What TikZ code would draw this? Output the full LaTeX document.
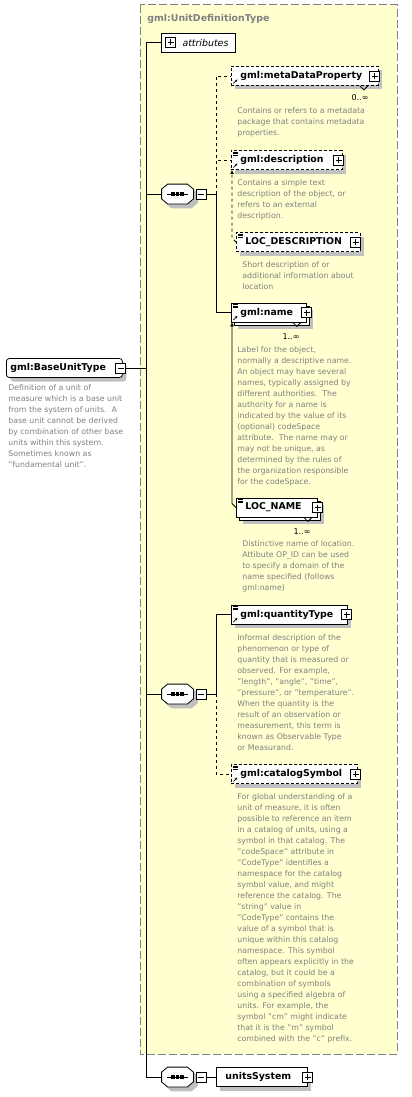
\documentclass[tikz,border=0pt]{standalone}
\usepackage{fontspec}
\setmainfont{DejaVu Sans}
\usetikzlibrary{positioning,arrows.meta,shadows}
\definecolor{xsYellow}{RGB}{255,255,208}
\definecolor{xsGray}{RGB}{128,128,128}
\definecolor{xsShadow}{RGB}{192,192,192}

\tikzset{
  namefont/.style={font=\fontsize{9.4}{11}\selectfont\bfseries},
  docnode/.style={anchor=north west, inner sep=0pt, align=left, text=xsGray,
    font=\fontsize{7.8}{11}\selectfont},
  mult/.style={inner sep=0pt, font=\fontsize{8}{10}\selectfont},
  elembox/.style={draw, fill=white, anchor=west, minimum height=19pt,
    inner xsep=9pt, inner ysep=0pt, align=left, namefont},
  elem/.style={elembox, drop shadow={shadow xshift=4pt, shadow yshift=-4pt,
    fill=xsShadow, opacity=1}},
  multi/.style={elembox, drop shadow={shadow xshift=7pt, shadow yshift=-7pt,
    fill=xsShadow, opacity=1},
    copy shadow={shadow xshift=3pt, shadow yshift=-3pt, fill=white, draw=black}},
  optional/.style={dash pattern=on 3pt off 2pt},
  optline/.style={dash pattern=on 3pt off 3pt},
  refmark/.style={path picture={
    \draw[solid, line width=0.6pt, -{Stealth[length=2.5pt,width=2.5pt]}]
      ([xshift=2pt,yshift=2pt]path picture bounding box.south west) -- ++(4pt,4pt);}},
  typemark/.style={path picture={
    \foreach \k in {0,1,2}
      \draw[solid, line width=0.5pt]
        ([xshift=2pt,yshift=-1.5pt-1.5*\k pt]path picture bounding box.north west) -- ++(5pt,0pt);}},
  reftypemark/.style={path picture={
    \foreach \k in {0,1,2}
      \draw[solid, line width=0.5pt]
        ([xshift=2pt,yshift=-1.5pt-1.5*\k pt]path picture bounding box.north west) -- ++(5pt,0pt);
    \draw[solid, line width=0.6pt, -{Stealth[length=2.5pt,width=2.5pt]}]
      ([xshift=2pt,yshift=2pt]path picture bounding box.south west) -- ++(4pt,4pt);}},
  plusbox/.style={draw, solid, fill=white, minimum size=10pt, inner sep=0pt,
    path picture={\draw[line width=0.7pt]
      ([xshift=2pt]path picture bounding box.west) -- ([xshift=-2pt]path picture bounding box.east)
      ([yshift=-2pt]path picture bounding box.north) -- ([yshift=2pt]path picture bounding box.south);}},
  minusbox/.style={draw, solid, fill=white, minimum size=10pt, inner sep=0pt,
    path picture={\draw[line width=0.7pt]
      ([xshift=2pt]path picture bounding box.west) -- ([xshift=-2pt]path picture bounding box.east);}},
  seq/.style={minimum width=31pt, minimum height=19pt, inner sep=0pt},
  substline/.style={-{Latex[length=4pt,width=4pt]}},
  typeframe/.style={draw=xsGray, fill=xsYellow, line width=1pt, dash pattern=on 8pt off 3pt}
}

% octagon of a sequence compositor, drawn over its (empty) node
\newcommand{\seqshape}[1]{%
  \foreach \s/\c/\d in {4pt/xsShadow/xsShadow, 0pt/white/black}
    \filldraw[fill=\c, draw=\d, transform canvas={shift={(\s,-\s)}}]
      ([xshift=6pt]#1.north west) -- ([xshift=-6pt]#1.north east)
      -- ([yshift=-5pt]#1.north east) -- ([yshift=5pt]#1.south east)
      -- ([xshift=-6pt]#1.south east) -- ([xshift=6pt]#1.south west)
      -- ([yshift=5pt]#1.south west) -- ([yshift=-5pt]#1.north west) -- cycle;
  \draw ([xshift=5pt]#1.west) -- ([xshift=-5pt]#1.east);
  \foreach \k in {-4.5,0,4.5}
    \fill ([xshift=\k pt]#1.center) +(-1.6pt,-1.6pt) rectangle +(1.6pt,1.6pt);
}

\begin{document}
\begin{tikzpicture}[x=1pt, y=-1pt, line width=0.8pt]
  \useasboundingbox (0,0) rectangle (412,1097);

  % complex type frame
  \draw[typeframe] (140,5) rectangle (397,1054);
  \node[anchor=west, inner sep=0pt, text=xsGray, namefont] (typeTitle) at (147,19) {gml:UnitDefinitionType};

  % global element
  \node[elem, rounded corners=3pt, inner xsep=4pt, text width=108pt] (base) at (6,368) {gml:BaseUnitType};
  \node[minusbox] (baseMinus) at ([xshift=-2pt]base.east) {};
  \node[docnode] (baseDoc) at (8,384) {Definition of a unit of\\measure which is a base unit\\from the system of units.\ \ A\\base unit cannot be derived\\by combination of other base\\units within this system.\\Sometimes known as\\"fundamental unit".};

  % attributes
  \node[draw, fill=white, anchor=west, minimum height=19pt, inner xsep=7pt, inner ysep=0pt,
    text width=60pt, align=right, font=\fontsize{9.4}{11}\selectfont\itshape] (attrs) at (161,42.5) {attributes};
  \node[plusbox] (attrsPlus) at (170.5,42.5) {};

  % first sequence
  \node[seq] (seqA) at (177.5,194) {};
  \seqshape{seqA}
  \node[minusbox] (seqAminus) at (201,194) {};

  \node[elem, optional, refmark, text width=129pt] (meta) at (231,76) {gml:metaDataProperty};
  \node[plusbox] (metaPlus) at ([xshift=-4pt]meta.east) {};
  \draw ([xshift=-19pt]meta.south east) -- ++(4,4) -- ++(4,-4);
  \node[mult] (metaMult) at (360,98) {0..∞};
  \node[docnode] (metaDoc) at (237,107) {Contains or refers to a metadata\\package that contains metadata\\properties.};

  \node[elem, optional, reftypemark, text width=93pt] (descr) at (231,160) {gml:description};
  \node[plusbox] (descrPlus) at ([xshift=-4pt]descr.east) {};
  \node[docnode] (descrDoc) at (237,179) {Contains a simple text\\description of the object, or\\refers to an external\\description.};

  \node[elem, optional, typemark, text width=106pt] (locdesc) at (236,242) {LOC\_DESCRIPTION};
  \node[plusbox] (locdescPlus) at ([xshift=-5pt]locdesc.east) {};
  \node[docnode] (locdescDoc) at (242,261) {Short description of or\\additional information about\\location};

  \node[multi, reftypemark, text width=57pt] (name) at (231,312.5) {gml:name};
  \node[plusbox] (namePlus) at (name.east) {};
  \draw ([xshift=-14pt]name.south east) -- ++(4,4) -- ++(4,-4);
  \node[mult] (nameMult) at (291,337) {1..∞};
  \node[docnode] (nameDoc) at (237,346) {Label for the object,\\normally a descriptive name.\\An object may have several\\names, typically assigned by\\different authorities.\ \ The\\authority for a name is\\indicated by the value of its\\(optional) codeSpace\\attribute.\ \ The name may or\\may not be unique, as\\determined by the rules of\\the organization responsible\\for the codeSpace.};

  \node[multi, typemark, text width=63pt] (locname) at (236,507.5) {LOC\_NAME};
  \node[plusbox] (locnamePlus) at (locname.east) {};
  \draw ([xshift=-14pt]locname.south east) -- ++(4,4) -- ++(4,-4);
  \node[mult] (locnameMult) at (302,532) {1..∞};
  \node[docnode] (locnameDoc) at (242,540) {Distinctive name of location.\\Attibute OP\_ID can be used\\to specify a domain of the\\name specified (follows\\gml:name)};

  % second sequence
  \node[seq] (seqB) at (177.5,694) {};
  \seqshape{seqB}
  \node[minusbox] (seqBminus) at (201,694) {};

  \node[elem, reftypemark, text width=98pt] (qty) at (231,614.5) {gml:quantityType};
  \node[plusbox] (qtyPlus) at ([xshift=-1pt]qty.east) {};
  \node[docnode] (qtyDoc) at (237,634) {Informal description of the\\phenomenon or type of\\quantity that is measured or\\observed. For example,\\"length", "angle", "time",\\"pressure", or "temperature".\\When the quantity is the\\result of an observation or\\measurement, this term is\\known as Observable Type\\or Measurand.};

  \node[elem, optional, reftypemark, text width=108pt] (cat) at (231,774) {gml:catalogSymbol};
  \node[plusbox] (catPlus) at ([xshift=-2pt]cat.east) {};
  \node[docnode] (catDoc) at (237,793) {For global understanding of a\\unit of measure, it is often\\possible to reference an item\\in a catalog of units, using a\\symbol in that catalog. The\\"codeSpace" attribute in\\"CodeType" identifies a\\namespace for the catalog\\symbol value, and might\\reference the catalog. The\\"string" value in\\"CodeType" contains the\\value of a symbol that is\\unique within this catalog\\namespace. This symbol\\often appears explicitly in the\\catalog, but it could be a\\combination of symbols\\using a specified algebra of\\units. For example, the\\symbol "cm" might indicate\\that it is the "m" symbol\\combined with the "c" prefix.};

  % third sequence
  \node[seq] (seqC) at (177.5,1077) {};
  \seqshape{seqC}
  \node[minusbox] (seqCminus) at (201,1077) {};
  \node[elem, text width=73pt] (units) at (216,1077) {unitsSystem};
  \node[plusbox] (unitsPlus) at (units.east) {};

  % connectors
  \coordinate (spine) at (146,0);
  \coordinate (fork) at (216,0);
  \coordinate (subst) at (232,0);
  \draw (attrs.west) -- (attrs.west -| spine) |- (seqC.west);
  \draw (baseMinus.east) -- (baseMinus.east -| spine);
  \draw (seqA.west) -- (seqA.west -| spine);
  \draw (seqB.west) -- (seqB.west -| spine);

  \draw (seqAminus.east) -- (seqAminus.east -| fork) |- (name.west);
  \draw[optline] (seqAminus.east -| fork) |- (meta.west);
  \draw[optline] (seqAminus.east -| fork) |- (descr.west);
  \draw[optline, substline] (locdesc.west) -- ([yshift=4pt]locdesc.west -| subst) -- (descr.south -| subst);
  \draw[substline] (locname.west) -- ([yshift=4pt]locname.west -| subst) -- (name.south -| subst);

  \draw (seqBminus.east) -- (seqBminus.east -| fork) |- (qty.west);
  \draw[optline] (seqBminus.east -| fork) |- (cat.west);

  \draw (seqCminus.east) -- (units.west);
\end{tikzpicture}
\end{document}
